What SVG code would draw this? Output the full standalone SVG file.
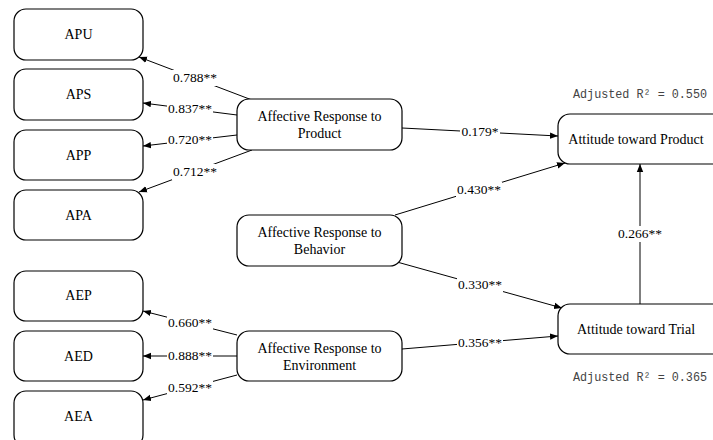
<svg xmlns="http://www.w3.org/2000/svg" width="713" height="440" viewBox="0 0 713 440">
<defs>
<style>
.box{fill:#fff;stroke:#000;stroke-width:1.2}
.t{font-family:"Liberation Serif","Times New Roman",serif;font-size:14px;fill:#000;text-anchor:middle}
.lbl{font-family:"Liberation Serif","Times New Roman",serif;font-size:13.5px;fill:#000;text-anchor:middle}
.bg{fill:#fff}
.r2{font-family:"Liberation Mono","DejaVu Sans Mono",monospace;font-size:12px;fill:#444}
.c{stroke:#000;stroke-width:1;fill:none;marker-end:url(#ah)}
</style>
<marker id="ah" viewBox="0 0 10 10" refX="10" refY="5" markerWidth="8" markerHeight="8" markerUnits="userSpaceOnUse" orient="auto">
<path d="M0,1 L10,5 L0,9 Z" fill="#000"/>
</marker>
</defs>
<rect width="713" height="440" fill="#fff"/>

<g id="connectors">
<line class="c" x1="252" y1="100" x2="139" y2="57"/>
<line class="c" x1="237" y1="115" x2="143" y2="103"/>
<line class="c" x1="237" y1="135" x2="143" y2="146"/>
<line class="c" x1="252" y1="150" x2="139" y2="192"/>
<line class="c" x1="237" y1="335" x2="143" y2="311"/>
<line class="c" x1="237" y1="356" x2="143" y2="356"/>
<line class="c" x1="237" y1="375" x2="143" y2="400"/>
<line class="c" x1="402" y1="128" x2="558" y2="136"/>
<line class="c" x1="395" y1="215" x2="565" y2="163"/>
<line class="c" x1="397" y1="262" x2="562" y2="308"/>
<line class="c" x1="402" y1="349" x2="558" y2="336"/>
<line class="c" x1="640" y1="304" x2="640" y2="164"/>
<g id="labels">
<rect class="bg" x="172" y="70" width="46" height="16"/><text class="lbl" x="195" y="82">0.788**</text>
<rect class="bg" x="167" y="101" width="46" height="16"/><text class="lbl" x="190" y="113">0.837**</text>
<rect class="bg" x="167" y="132" width="46" height="16"/><text class="lbl" x="190" y="144">0.720**</text>
<rect class="bg" x="172" y="164" width="46" height="16"/><text class="lbl" x="195" y="176">0.712**</text>
<rect class="bg" x="167" y="315" width="46" height="16"/><text class="lbl" x="190" y="327">0.660**</text>
<rect class="bg" x="167" y="348" width="46" height="16"/><text class="lbl" x="190" y="360">0.888**</text>
<rect class="bg" x="167" y="380" width="46" height="16"/><text class="lbl" x="190" y="392">0.592**</text>
<rect class="bg" x="460" y="124" width="40" height="16"/><text class="lbl" x="480" y="136">0.179*</text>
<rect class="bg" x="456" y="182" width="46" height="16"/><text class="lbl" x="479" y="194">0.430**</text>
<rect class="bg" x="457" y="277" width="46" height="16"/><text class="lbl" x="480" y="289">0.330**</text>
<rect class="bg" x="457" y="335" width="46" height="16"/><text class="lbl" x="480" y="347">0.356**</text>
<rect class="bg" x="617" y="226" width="46" height="16"/><text class="lbl" x="640" y="238">0.266**</text>
</g>
</g>

<g id="APU"><rect class="box" x="14" y="9" width="129" height="51" rx="12"/><text class="t" x="78.5" y="39">APU</text></g>
<g id="APS"><rect class="box" x="14" y="69" width="129" height="51" rx="12"/><text class="t" x="78.5" y="99">APS</text></g>
<g id="APP"><rect class="box" x="14" y="130" width="129" height="50" rx="12"/><text class="t" x="78.5" y="160">APP</text></g>
<g id="APA"><rect class="box" x="14" y="190" width="129" height="50" rx="12"/><text class="t" x="78.5" y="220">APA</text></g>
<g id="AEP"><rect class="box" x="14" y="271" width="129" height="50" rx="12"/><text class="t" x="78.5" y="300">AEP</text></g>
<g id="AED"><rect class="box" x="14" y="331" width="129" height="50" rx="12"/><text class="t" x="78.5" y="361">AED</text></g>
<g id="AEA"><rect class="box" x="14" y="391" width="129" height="56" rx="12"/><text class="t" x="78.5" y="421">AEA</text></g>

<g id="ARP"><rect class="box" x="237" y="99" width="165" height="51" rx="12"/><text class="t" x="319.5" y="121">Affective Response to</text><text class="t" x="319.5" y="138">Product</text></g>
<g id="ARB"><rect class="box" x="237" y="215" width="165" height="51" rx="12"/><text class="t" x="319.5" y="237">Affective Response to</text><text class="t" x="319.5" y="254">Behavior</text></g>
<g id="ARE"><rect class="box" x="237" y="331" width="165" height="50" rx="12"/><text class="t" x="319.5" y="353">Affective Response to</text><text class="t" x="319.5" y="370">Environment</text></g>

<g id="ATP"><rect class="box" x="558" y="114" width="170" height="50" rx="12"/><text class="t" x="636" y="144">Attitude toward Product</text></g>
<g id="ATT"><rect class="box" x="558" y="304" width="170" height="50" rx="12"/><text class="t" x="636" y="334">Attitude toward Trial</text></g>

<text class="r2" x="573" y="98" textLength="134" lengthAdjust="spacingAndGlyphs">Adjusted R² = 0.550</text>
<text class="r2" x="573" y="381" textLength="134" lengthAdjust="spacingAndGlyphs">Adjusted R² = 0.365</text>
</svg>
